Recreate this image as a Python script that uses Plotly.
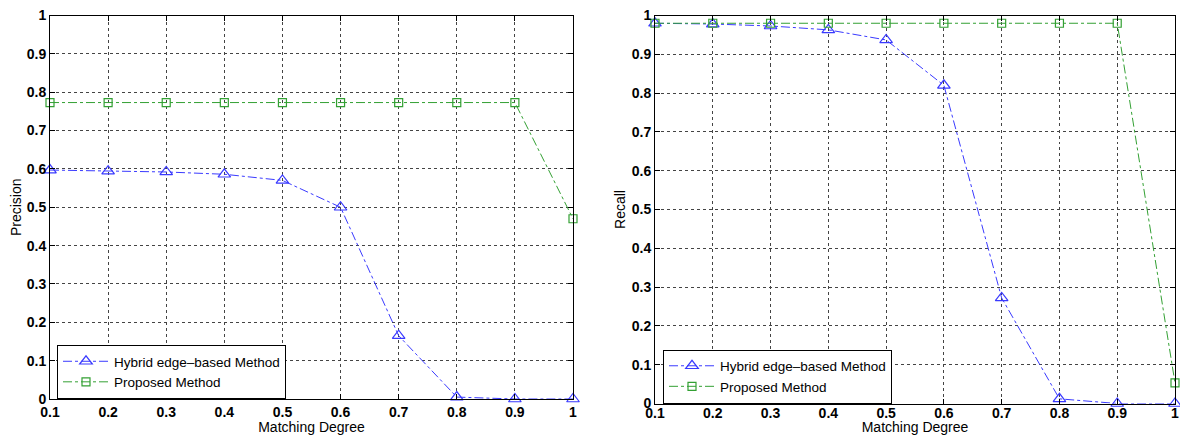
import plotly.graph_objects as go

matching_degree = [0.1, 0.2, 0.3, 0.4, 0.5, 0.6, 0.7, 0.8, 0.9, 1.0]
precision_hybrid = [0.597, 0.594, 0.592, 0.586, 0.570, 0.500, 0.165, 0.005, 0.0, 0.0]
precision_proposed = [0.773, 0.773, 0.773, 0.773, 0.773, 0.773, 0.773, 0.773, 0.773, 0.470]
recall_hybrid = [0.980, 0.978, 0.973, 0.963, 0.937, 0.820, 0.272, 0.012, 0.0, 0.0]
recall_proposed = [0.980, 0.980, 0.980, 0.980, 0.980, 0.980, 0.980, 0.980, 0.980, 0.053]
tick_vals_x = [0.1, 0.2, 0.3, 0.4, 0.5, 0.6, 0.7, 0.8, 0.9, 1.0]
tick_text_x = ["0.1", "0.2", "0.3", "0.4", "0.5", "0.6", "0.7", "0.8", "0.9", "1"]
tick_vals_y = [0, 0.1, 0.2, 0.3, 0.4, 0.5, 0.6, 0.7, 0.8, 0.9, 1.0]
tick_text_y = ["0", "0.1", "0.2", "0.3", "0.4", "0.5", "0.6", "0.7", "0.8", "0.9", "1"]
name_hybrid = "Hybrid edge–based Method"
name_proposed = "Proposed Method"

BLUE = "#3a3aff"
GREEN = "#33a033"
FONT = "Liberation Sans, Arial, sans-serif"

fig = go.Figure()

def add_pair(xa, ya, legend, yh, yp):
    fig.add_trace(go.Scatter(
        x=matching_degree, y=yh, name=name_hybrid, mode="lines+markers",
        xaxis=xa, yaxis=ya, legend=legend,
        line=dict(color=BLUE, width=1, dash="dashdot"),
        marker=dict(symbol="triangle-up-open", size=11, color=BLUE, line=dict(width=1.2)),
        cliponaxis=False))
    fig.add_trace(go.Scatter(
        x=matching_degree, y=yp, name=name_proposed, mode="lines+markers",
        xaxis=xa, yaxis=ya, legend=legend,
        line=dict(color=GREEN, width=1, dash="dashdot"),
        marker=dict(symbol="square-open", size=8, color=GREEN, line=dict(width=1.2)),
        cliponaxis=False))

add_pair("x", "y", "legend", precision_hybrid, precision_proposed)
add_pair("x2", "y2", "legend2", recall_hybrid, recall_proposed)

# page body has an 8px margin on every side; size the figure to fit without scrollbars
OFF = 8
W, H = 1188 - 2 * OFF, 443 - 2 * OFF

def px(x):
    return min(1.0, (x - OFF) / W)

def py(y):
    return 1 - (y - OFF) / H

axis_common = dict(
    showline=True, mirror="ticks", linecolor="black", linewidth=1,
    ticks="inside", ticklen=5, tickcolor="black",
    showgrid=True, gridcolor="#444", griddash="dot", gridwidth=1,
    zeroline=False, automargin=False, ticklabeloverflow="allow",
    tickfont=dict(family=FONT, size=14, color="black", weight="bold"),
)
title_font = dict(size=14, family=FONT, color="black")
legend_common = dict(
    xanchor="left", yanchor="bottom",
    bgcolor="white", bordercolor="black", borderwidth=1,
    font=dict(family=FONT, size=13.5, color="black"),
    tracegroupgap=0, itemwidth=46,
)

fig.update_layout(
    width=W, height=H,
    margin=dict(l=0, r=0, t=0, b=0, autoexpand=False),
    paper_bgcolor="white", plot_bgcolor="white",
    font=dict(family=FONT, color="black"),
    xaxis=dict(domain=[px(50), px(573)], range=[0.1, 1.0], tickvals=tick_vals_x, ticktext=tick_text_x,
               anchor="y",
               title=dict(text="Matching Degree", font=title_font, standoff=3),
               **axis_common),
    yaxis=dict(domain=[py(399), py(15.5)], range=[0, 1], tickvals=tick_vals_y, ticktext=tick_text_y,
               anchor="x",
               title=dict(text="Precision", font=title_font, standoff=2),
               **axis_common),
    xaxis2=dict(domain=[px(655), px(1175)], range=[0.1, 1.0], tickvals=tick_vals_x, ticktext=tick_text_x,
                anchor="y2", ticklabelstandoff=-3,
                title=dict(text="Matching Degree", font=title_font, standoff=1),
                **axis_common),
    yaxis2=dict(domain=[py(403.5), py(15.5)], range=[0, 1], tickvals=tick_vals_y, ticktext=tick_text_y,
                anchor="x2",
                title=dict(text="Recall", font=title_font, standoff=2),
                **axis_common),
    legend=dict(x=px(57), y=py(399), **legend_common),
    legend2=dict(x=px(663), y=py(403.5), **legend_common),
    showlegend=True,
)

fig.write_html("out.html")
